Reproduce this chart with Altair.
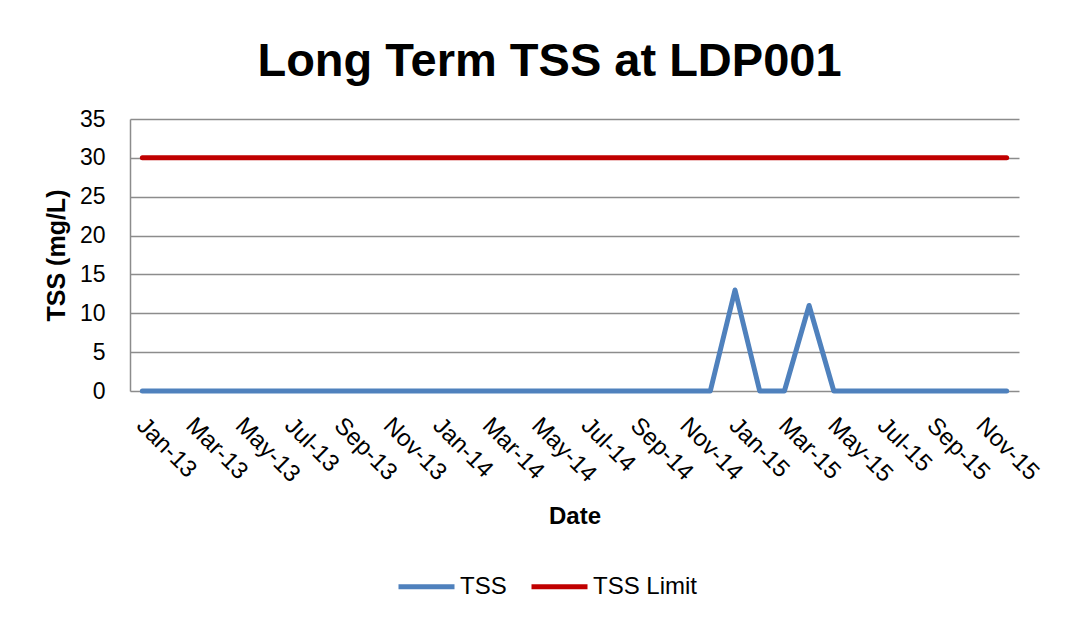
import altair as alt
import pandas as pd

months = ["Jan-13", "Feb-13", "Mar-13", "Apr-13", "May-13", "Jun-13",
          "Jul-13", "Aug-13", "Sep-13", "Oct-13", "Nov-13", "Dec-13",
          "Jan-14", "Feb-14", "Mar-14", "Apr-14", "May-14", "Jun-14",
          "Jul-14", "Aug-14", "Sep-14", "Oct-14", "Nov-14", "Dec-14",
          "Jan-15", "Feb-15", "Mar-15", "Apr-15", "May-15", "Jun-15",
          "Jul-15", "Aug-15", "Sep-15", "Oct-15", "Nov-15", "Dec-15"]

tss = [0, 0, 0, 0, 0, 0, 0, 0, 0, 0, 0, 0,
       0, 0, 0, 0, 0, 0, 0, 0, 0, 0, 0, 0,
       13, 0, 0, 11, 0, 0, 0, 0, 0, 0, 0, 0]

tss_limit = [30, 30, 30, 30, 30, 30, 30, 30, 30, 30, 30, 30,
             30, 30, 30, 30, 30, 30, 30, 30, 30, 30, 30, 30,
             30, 30, 30, 30, 30, 30, 30, 30, 30, 30, 30, 30]

tick_labels = ["Jan-13", "Mar-13", "May-13", "Jul-13", "Sep-13", "Nov-13",
               "Jan-14", "Mar-14", "May-14", "Jul-14", "Sep-14", "Nov-14",
               "Jan-15", "Mar-15", "May-15", "Jul-15", "Sep-15", "Nov-15"]

y_ticks = [0, 5, 10, 15, 20, 25, 30, 35]
series_names = ["TSS", "TSS Limit"]
series_colors = ["#4F81BD", "#C00000"]

rows = []
for i, m in enumerate(months):
    rows.append({"Month": m, "Value": tss[i], "Series": "TSS", "order": i})
    rows.append({"Month": m, "Value": tss_limit[i], "Series": "TSS Limit", "order": i})
df = pd.DataFrame(rows)

FONT = "Liberation Sans"

chart = alt.Chart(df).mark_line(
    strokeWidth=5, strokeCap="round", strokeJoin="round"
).encode(
    x=alt.X(
        "Month:N",
        sort=months,
        scale=alt.Scale(type="point", padding=0.5),
        axis=alt.Axis(
            values=tick_labels,
            labelAngle=45,
            labelAlign="left",
            labelBaseline="top",
            labelPadding=22,
            labelOffset=6,
            labelFontSize=24,
            labelFont=FONT,
            labelColor="#000000",
            labelOverlap=False,
            domain=False,
            ticks=False,
            grid=False,
            title="Date",
            titleFont=FONT,
            titleFontSize=24,
            titleFontWeight="bold",
            titleColor="#000000",
            titlePadding=18,
        ),
    ),
    y=alt.Y(
        "Value:Q",
        scale=alt.Scale(domain=[0, 35], nice=False),
        axis=alt.Axis(
            values=y_ticks,
            labelFontSize=23,
            labelFont=FONT,
            labelColor="#000000",
            labelPadding=25,
            ticks=False,
            domain=True,
            domainColor="#8C8C8C",
            domainWidth=1.5,
            grid=True,
            gridColor="#8C8C8C",
            gridWidth=1.5,
            title="TSS (mg/L)",
            titleFont=FONT,
            titleFontSize=25,
            titleFontWeight="bold",
            titleColor="#000000",
            titlePadding=10,
        ),
    ),
    color=alt.Color(
        "Series:N",
        scale=alt.Scale(domain=series_names, range=series_colors),
        legend=alt.Legend(
            title=None,
            orient="none",
            legendX=266,
            legendY=437,
            direction="horizontal",
            symbolType="stroke",
            symbolSize=3136,
            symbolStrokeWidth=5,
            labelFontSize=24,
            labelFont=FONT,
            labelColor="#000000",
            labelOffset=3,
            columnPadding=14,
            padding=0,
        ),
    ),
    order="order:Q",
).properties(
    width=889,
    height=272,
    title=alt.TitleParams(
        "Long Term TSS at LDP001",
        font=FONT,
        fontSize=47,
        fontWeight="bold",
        color="#000000",
        anchor="middle",
        frame="group",
        dx=-25,
        dy=57,
        baseline="alphabetic",
        offset=42,
    ),
    autosize=alt.AutoSizeParams(type="none"),
    padding={"left": 122, "top": 111, "right": 59, "bottom": 218},
).configure_view(stroke=None)

chart.save("out.html", embed_options={"renderer": "svg", "actions": False})
